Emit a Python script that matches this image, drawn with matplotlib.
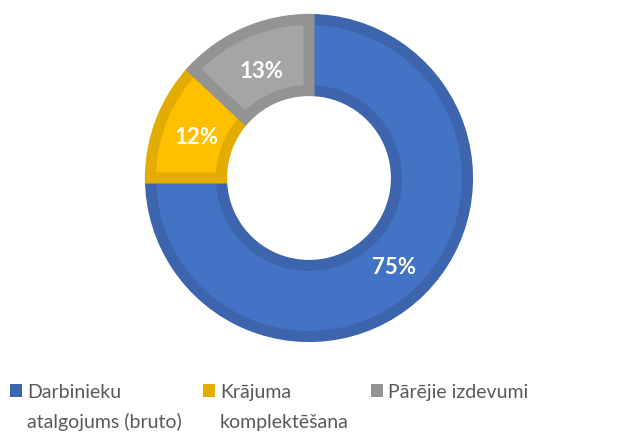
import textwrap
import matplotlib.pyplot as plt
from matplotlib.patches import Rectangle

# data
categories = ["Darbinieku atalgojums (bruto)", "Krājuma komplektēšana", "Pārējie izdevumi"]
shares = [75, 12, 13]
fill_colors = ["#4472C4", "#FFC000", "#A5A5A5"]
edge_colors = ["#3C65AE", "#E2AC00", "#939393"]

plt.rcParams["font.family"] = ["Lato", "DejaVu Sans"]

W, H = 635, 433
fig = plt.figure(figsize=(W / 100, H / 100), dpi=100)

# donut, centre ~(309,178) px
cx, cy, r = 309, 178, 158.5
ax = fig.add_axes([(cx - r) / W, (H - cy - r) / H, 2 * r / W, 2 * r / H])

wedges, texts, autotexts = ax.pie(
    shares,
    colors=fill_colors,
    startangle=90,
    counterclock=False,
    autopct="%d%%",
    pctdistance=0.76,
    wedgeprops=dict(width=0.448, linewidth=8),
    textprops=dict(color="white", fontsize=16, fontweight="bold"),
)
for w, ec in zip(wedges, edge_colors):
    w.set_edgecolor(ec)
for t in autotexts:
    x, y = t.get_position()
    t.set_position((x, y - 0.025))
ax.set_xlim(-1, 1)
ax.set_ylim(-1, 1)
ax.axis("off")

# legend, drawn by hand so the squares line up with the first text line
leg_x = [10, 203, 371]
for x0, name, col in zip(leg_x, categories, edge_colors):
    fig.patches.append(Rectangle((x0 / W, (H - 397) / H), 12 / W, 13 / H,
                                 transform=fig.transFigure, facecolor=col,
                                 edgecolor="none"))
    lines = textwrap.wrap(name, 18)
    for i, line in enumerate(lines):
        fig.text((x0 + 17) / W, (H - 398 - 30 * i) / H, line, fontsize=14,
                 color="#595959", va="baseline", ha="left")

fig.savefig("out.png", dpi=100, facecolor="white")
